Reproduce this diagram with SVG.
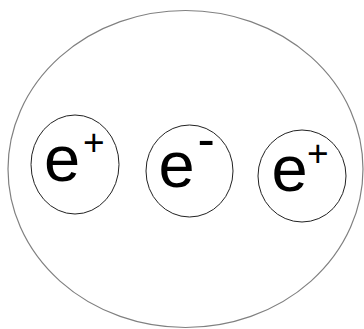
<svg xmlns="http://www.w3.org/2000/svg" width="364" height="329" viewBox="0 0 364 329">
<style>
.outer{fill:none;stroke:#808080;stroke-width:1.2}
.p{fill:none;stroke:#222;stroke-width:1}
.e{font-family:"Liberation Sans",Arial,sans-serif;font-size:65px;fill:#000}
.s{font-family:"Liberation Sans",Arial,sans-serif;font-size:37px;fill:#000}
.m{font-family:"Liberation Sans",Arial,sans-serif;font-size:52px;fill:#000}
</style>
<rect width="364" height="329" fill="#fff"/>
<g id="atom"><ellipse class="outer" cx="185.5" cy="169" rx="177.5" ry="158.5"/></g>
<g id="p1">
<ellipse class="p" cx="75" cy="164.5" rx="44" ry="49.5"/>
<text class="e" x="44" y="180.5">e</text>
<text class="s" x="83" y="155">+</text>
</g>
<g id="p2">
<ellipse class="p" cx="189.5" cy="171" rx="43.5" ry="46"/>
<text class="e" x="158.5" y="186.5">e</text>
<text class="m" x="197.5" y="157">-</text>
</g>
<g id="p3">
<ellipse class="p" cx="302" cy="176" rx="44" ry="46"/>
<text class="e" x="271.5" y="191">e</text>
<text class="s" x="307" y="166">+</text>
</g>
<g id="connectors"></g>
</svg>
